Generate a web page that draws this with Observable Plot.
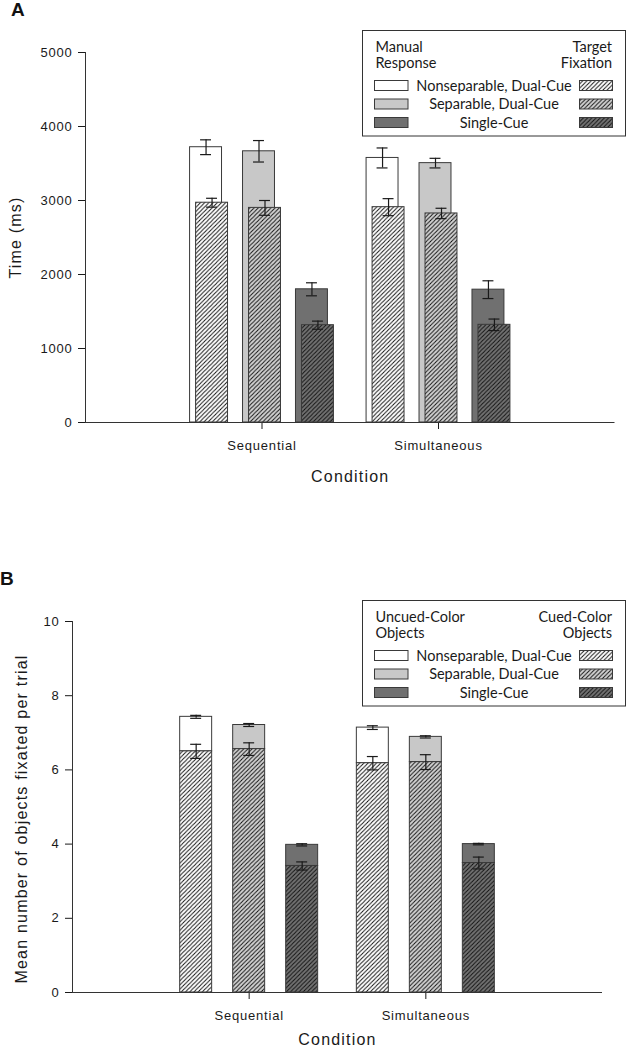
<!DOCTYPE html>
<html><head><meta charset="utf-8">
<script src="https://cdn.jsdelivr.net/npm/d3@7"></script>
<script src="https://cdn.jsdelivr.net/npm/@observablehq/plot@0.6"></script>
<style>
body{margin:0;background:#fff;}
#root{position:relative;width:627px;height:1050px;overflow:hidden;background:#fff;}
#root > svg{position:absolute;left:0;}
</style></head>
<body>
<svg id="defs" width="0" height="0" style="position:absolute"><defs></defs></svg>
<div id="root"></div>
<script>
// ---------- data ----------
const conditions = ["Sequential", "Simultaneous"];
const cueTypes = ["Nonseparable, Dual-Cue", "Separable, Dual-Cue", "Single-Cue"];

// Panel A: time (ms)
const manualSeq    = [3720, 3665, 1800];
const manualSeqErr = [100, 145, 88];
const manualSim    = [3575, 3505, 1795];
const manualSimErr = [135, 65, 120];
const targetSeq    = [2970, 2900, 1315];
const targetSeqErr = [60, 100, 55];
const targetSim    = [2910, 2825, 1320];
const targetSimErr = [115, 70, 78];
const yTicksA = [0, 1000, 2000, 3000, 4000, 5000];

// Panel B: objects fixated per trial
const cuedSeq      = [6.50, 6.56, 3.41];
const cuedSeqErr   = [0.19, 0.17, 0.11];
const uncuedSeq    = [0.93, 0.65, 0.57];
const totalSeqErr  = [0.04, 0.04, 0.03];
const cuedSim      = [6.18, 6.21, 3.49];
const cuedSimErr   = [0.18, 0.20, 0.16];
const uncuedSim    = [0.96, 0.68, 0.51];
const totalSimErr  = [0.05, 0.03, 0.02];
const yTicksB = [0, 2, 4, 6, 8, 10];

// ---------- styles ----------
const solidFills = ["#ffffff", "#c8c8c8", "#707070"];
const hatchBgs   = ["#ffffff", "#d2d2d2", "#727272"];
const hatchFills = ["url(#h0)", "url(#h1)", "url(#h2)"];
const edge = "#3a3a3a";
const ink = "#1a1a1a";
const GAP = 0.3, W = 0.181, SHIFT = 0.017, CAP = 0.031;

// hatch patterns
const P = 4.2;
document.querySelector("#defs defs").innerHTML = hatchBgs.map((bg, i) =>
  `<pattern id="h${i}" patternUnits="userSpaceOnUse" width="${P}" height="${P}">
     <rect width="${P}" height="${P}" fill="${bg}"/>
     <path d="M${-P/4},${P/4} L${P/4},${-P/4} M0,${P} L${P},0 M${P*0.75},${P*1.25} L${P*1.25},${P*0.75}" stroke="#111" stroke-width="1"/>
   </pattern>`).join("");

const root = document.getElementById("root");
const baseStyle = {fontFamily: "'Liberation Sans', Arial, sans-serif", fontSize: "13px", color: ink, background: "transparent", overflow: "visible", letterSpacing: "0.8px"};

// ---------- Panel A ----------
const rowsA = [];
conditions.forEach((c, ci) => {
  const m = ci ? manualSim : manualSeq, me = ci ? manualSimErr : manualSeqErr;
  const t = ci ? targetSim : targetSeq, te = ci ? targetSimErr : targetSeqErr;
  cueTypes.forEach((ct, k) => rowsA.push({k, pos: ci + 1 + (k - 1) * GAP,
    manual: m[k], manualErr: me[k], target: t[k], targetErr: te[k]}));
});

function errMarks(rows, xf, vf, ef) {
  return [
    Plot.ruleX(rows, {x: xf, y1: d => vf(d) - ef(d), y2: d => vf(d) + ef(d), stroke: ink, strokeWidth: 1.2}),
    Plot.ruleY(rows, {x1: d => xf(d) - CAP, x2: d => xf(d) + CAP, y: d => vf(d) + ef(d), stroke: ink, strokeWidth: 1.2}),
    Plot.ruleY(rows, {x1: d => xf(d) - CAP, x2: d => xf(d) + CAP, y: d => vf(d) - ef(d), stroke: ink, strokeWidth: 1.2})
  ];
}

const chartA = Plot.plot({
  width: 627, height: 500,
  marginLeft: 85, marginRight: 12.5, marginTop: 52, marginBottom: 78,
  style: baseStyle,
  x: {domain: [0, 3], ticks: [1, 2], tickFormat: d => conditions[d - 1], tickSize: 7, tickPadding: 11, label: null},
  y: {domain: [0, 5000], ticks: yTicksA, tickFormat: d3.format("d"), tickSize: 7, tickPadding: 6, label: null},
  marks: [
    ...[0, 1, 2].map(k => Plot.rectY(rowsA.filter(d => d.k === k), {
      x1: d => d.pos - SHIFT - W / 2, x2: d => d.pos - SHIFT + W / 2, y1: 0, y2: "manual",
      fill: solidFills[k], stroke: edge, strokeWidth: 1})),
    ...errMarks(rowsA, d => d.pos - SHIFT, d => d.manual, d => d.manualErr),
    ...[0, 1, 2].map(k => Plot.rectY(rowsA.filter(d => d.k === k), {
      x1: d => d.pos + SHIFT - W / 2, x2: d => d.pos + SHIFT + W / 2, y1: 0, y2: "target",
      fill: hatchFills[k], stroke: edge, strokeWidth: 1})),
    ...errMarks(rowsA, d => d.pos + SHIFT, d => d.target, d => d.targetErr),
    Plot.ruleX([0], {y1: 0, y2: 5000, stroke: "#333"}),
    Plot.ruleY([0], {stroke: "#333"}),
    Plot.text(["Time (ms)"], {text: d => d, frameAnchor: "left", textAnchor: "middle", lineAnchor: "middle", dx: -69.5, rotate: -90, fontSize: 16}),
    Plot.text(["Condition"], {text: d => d, frameAnchor: "bottom", textAnchor: "middle", lineAnchor: "middle", dy: 54, fontSize: 16})
  ]
});
chartA.style.top = "0px";
root.appendChild(chartA);

// ---------- Panel B ----------
const rowsB = [];
conditions.forEach((c, ci) => {
  const cu = ci ? cuedSim : cuedSeq, ce = ci ? cuedSimErr : cuedSeqErr;
  const un = ci ? uncuedSim : uncuedSeq, te = ci ? totalSimErr : totalSeqErr;
  cueTypes.forEach((ct, k) => rowsB.push({k, pos: ci + 1 + (k - 1) * GAP,
    cued: cu[k], cuedErr: ce[k], total: cu[k] + un[k], totalErr: te[k]}));
});

const chartB = Plot.plot({
  width: 627, height: 490,
  marginLeft: 72, marginRight: 25, marginTop: 61, marginBottom: 58,
  style: baseStyle,
  x: {domain: [0, 3], ticks: [1, 2], tickFormat: d => conditions[d - 1], tickSize: 7, tickPadding: 11, label: null},
  y: {domain: [0, 10], ticks: yTicksB, tickFormat: d3.format("d"), tickSize: 7, tickPadding: 6, label: null},
  marks: [
    ...[0, 1, 2].map(k => Plot.rectY(rowsB.filter(d => d.k === k), {
      x1: d => d.pos - W / 2, x2: d => d.pos + W / 2, y1: "cued", y2: "total",
      fill: solidFills[k], stroke: edge, strokeWidth: 1})),
    ...[0, 1, 2].map(k => Plot.rectY(rowsB.filter(d => d.k === k), {
      x1: d => d.pos - W / 2, x2: d => d.pos + W / 2, y1: 0, y2: "cued",
      fill: hatchFills[k], stroke: edge, strokeWidth: 1})),
    ...errMarks(rowsB, d => d.pos, d => d.total, d => d.totalErr),
    ...errMarks(rowsB, d => d.pos, d => d.cued, d => d.cuedErr),
    Plot.ruleX([0], {y1: 0, y2: 10, stroke: "#333"}),
    Plot.ruleY([0], {stroke: "#333"}),
    Plot.text(["Mean number of objects fixated per trial"], {text: d => d, frameAnchor: "left", textAnchor: "middle", lineAnchor: "middle", dx: -51, dy: 12, rotate: -90, fontSize: 16}),
    Plot.text(["Condition"], {text: d => d, frameAnchor: "bottom", textAnchor: "middle", lineAnchor: "middle", dy: 47, fontSize: 16})
  ]
});
chartB.style.top = "560px";
root.appendChild(chartB);

// axis titles: wider tracking
for (const svg of [chartA, chartB]) {
  svg.querySelectorAll('g[aria-label="text"] text').forEach(t => t.style.letterSpacing = "1.2px");
}

// ---------- legends & panel letters ----------
const NS = "http://www.w3.org/2000/svg";
const ov = document.createElementNS(NS, "svg");
ov.setAttribute("width", 627); ov.setAttribute("height", 1050);
ov.style.top = "0px"; ov.style.pointerEvents = "none";
root.appendChild(ov);
function el(tag, attrs, text) {
  const e = document.createElementNS(NS, tag);
  for (const k in attrs) e.setAttribute(k, attrs[k]);
  if (text != null) e.textContent = text;
  ov.appendChild(e); return e;
}
const legFont = {"font-family": "Lato, 'Open Sans', sans-serif", "font-size": 14.5, fill: "#1a1a1a"};
function legend(top, leftTitle, rightTitle) {
  el("rect", {x: 362.5, y: top + 0.5, width: 263, height: 105.5, fill: "#fff", stroke: "#333", "stroke-width": 1});
  el("text", {...legFont, x: 375.5, y: top + 21.5}, leftTitle[0]);
  el("text", {...legFont, x: 375.5, y: top + 38}, leftTitle[1]);
  el("text", {...legFont, x: 612, y: top + 21.5, "text-anchor": "end"}, rightTitle[0]);
  el("text", {...legFont, x: 612, y: top + 38, "text-anchor": "end"}, rightTitle[1]);
  cueTypes.forEach((name, i) => {
    const y = top + 50 + 18.5 * i;
    el("rect", {x: 374.5, y: y + 0.5, width: 33.5, height: 10, fill: solidFills[i], stroke: edge, "stroke-width": 1});
    el("rect", {x: 579.5, y: y + 0.5, width: 33, height: 10, fill: hatchFills[i], stroke: edge, "stroke-width": 1});
    el("text", {...legFont, x: 494, y: y + 10.5, "text-anchor": "middle"}, name);
  });
}
legend(30, ["Manual", "Response"], ["Target", "Fixation"]);
legend(600, ["Uncued-Color", "Objects"], ["Cued-Color", "Objects"]);
const letterFont = {"font-family": "'Liberation Sans', Arial, sans-serif", "font-size": 19, "font-weight": "bold", fill: "#111"};
el("text", {...letterFont, x: 11, y: 16}, "A");
el("text", {...letterFont, x: 0, y: 585}, "B");
</script>
</body></html>
